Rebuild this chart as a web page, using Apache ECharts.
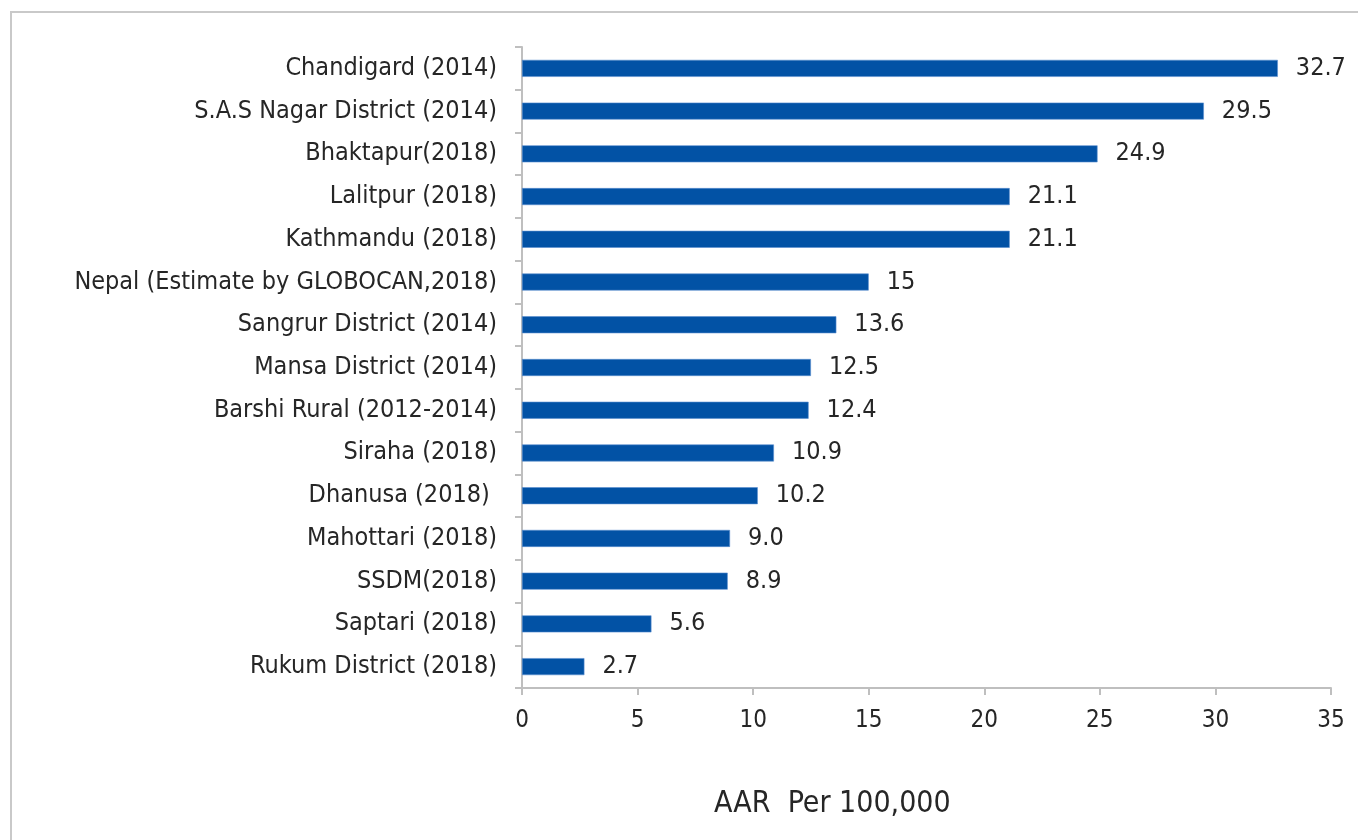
<!DOCTYPE html>
<html>
<head>
<meta charset="utf-8">
<script src="https://cdn.jsdelivr.net/npm/echarts@6/dist/echarts.min.js"></script>
<style>
  html, body { margin: 0; padding: 0; background: #fff; }
  #frame { position: absolute; left: 10px; top: 11px; width: 1360px; height: 840px; border: 2px solid #c9c9c9; box-sizing: border-box; }
  #chart { position: absolute; left: 0; top: 0; width: 1358px; height: 840px; }
</style>
</head>
<body>
<div id="frame"></div>
<div id="chart"></div>
<script>
// Registries, listed top to bottom
const categories = [
  'Chandigard (2014)',
  'S.A.S Nagar District (2014)',
  'Bhaktapur(2018)',
  'Lalitpur (2018)',
  'Kathmandu (2018)',
  'Nepal (Estimate by GLOBOCAN,2018)',
  'Sangrur District (2014)',
  'Mansa District (2014)',
  'Barshi Rural (2012-2014)',
  'Siraha (2018)',
  'Dhanusa (2018) ',
  'Mahottari (2018)',
  'SSDM(2018)',
  'Saptari (2018)',
  'Rukum District (2018)'
];
// Age-adjusted rate per 100,000, kept as written so labels keep their format
const aarValues = ['32.7', '29.5', '24.9', '21.1', '21.1', '15', '13.6', '12.5', '12.4', '10.9', '10.2', '9.0', '8.9', '5.6', '2.7'];
const xTicks = [0, 5, 10, 15, 20, 25, 30, 35];
const axisTitle = 'AAR  Per 100,000';

const FONT = '"DejaVu Sans Condensed", "DejaVu Sans", sans-serif';
const TEXT = '#262626';

const chart = echarts.init(document.getElementById('chart'), null, { renderer: 'canvas' });
chart.setOption({
  animation: false,
  textStyle: { fontFamily: FONT },
  title: {
    text: axisTitle,
    left: 709,
    top: 784,
    textStyle: { fontFamily: FONT, fontSize: 30, fontWeight: 'normal', color: TEXT }
  },
  grid: { left: 522, right: 27, top: 47, bottom: 152, containLabel: false },
  xAxis: {
    type: 'value',
    min: xTicks[0],
    max: xTicks[xTicks.length - 1],
    interval: 5,
    axisLine: { show: true, lineStyle: { color: '#bfbfbf', width: 2 } },
    axisTick: { show: true, length: 7, lineStyle: { color: '#bfbfbf', width: 2 } },
    splitLine: { show: false },
    axisLabel: { color: TEXT, fontSize: 24, fontFamily: FONT, margin: 21 }
  },
  yAxis: {
    type: 'category',
    inverse: true,
    data: categories,
    axisLine: { show: true, lineStyle: { color: '#bfbfbf', width: 2 } },
    axisTick: { show: true, length: 7, lineStyle: { color: '#bfbfbf', width: 2 } },
    axisLabel: { color: TEXT, fontSize: 25, fontFamily: FONT, margin: 25 }
  },
  series: [{
    type: 'bar',
    data: aarValues,
    barWidth: 17,
    itemStyle: { color: '#0252a5', borderColor: '#5b8fd0', borderWidth: 0.6 },
    label: {
      show: true,
      position: 'right',
      distance: 18,
      color: TEXT,
      fontSize: 25,
      fontFamily: FONT,
      formatter: p => aarValues[p.dataIndex]
    }
  }]
});
</script>
</body>
</html>
